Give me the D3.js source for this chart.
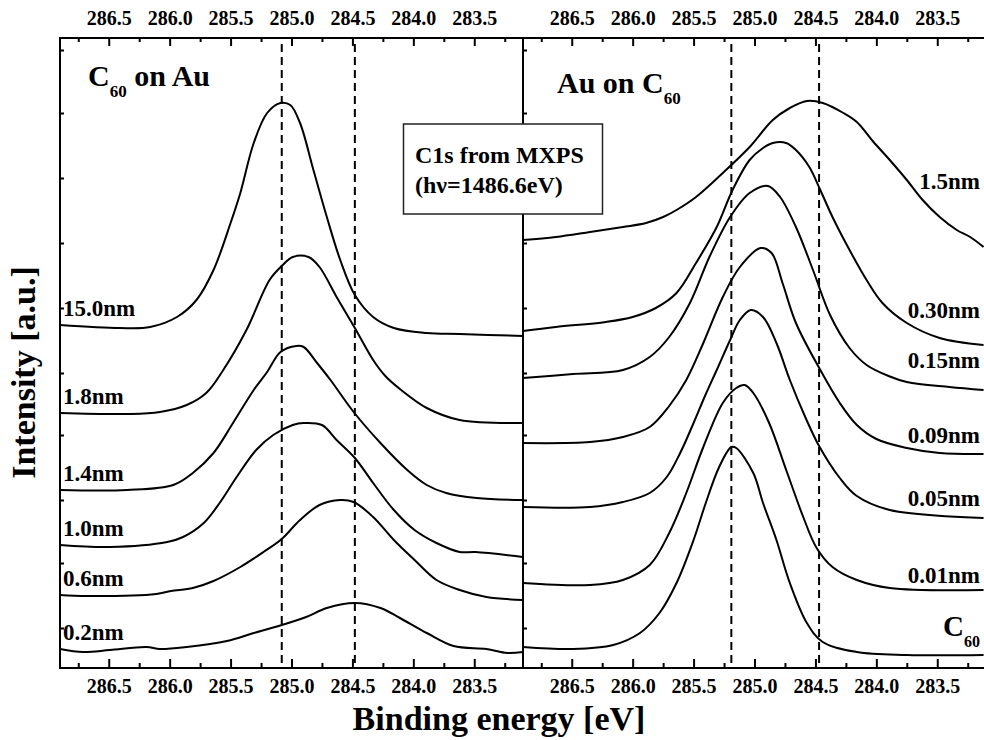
<!DOCTYPE html>
<html>
<head>
<meta charset="utf-8">
<script src="https://cdn.jsdelivr.net/npm/d3@7"></script>
<style>
body { margin: 0; background: #fff; }
text { font-family: "Liberation Serif", "Times New Roman", serif; font-weight: bold; fill: #000; }
</style>
</head>
<body>
<svg id="chart" width="984" height="740"></svg>
<script>
// Binding energy axis (eV, reversed) and ticks
var E_DOMAIN = [286.9, 283.1];
var MAJOR_TICKS = [286.5, 286.0, 285.5, 285.0, 284.5, 284.0, 283.5];
var MINOR_TICKS = [286.75, 286.25, 285.75, 285.25, 284.75, 284.25, 283.75, 283.25];
// intensity ticks (a.u., unlabeled)
var Y_TICKS = [40, 105, 168, 233, 295, 360, 425, 490, 555, 618];

// reference energies of the dashed lines
var DASH_LEFT = [285.08, 284.48];
var DASH_RIGHT = [285.19, 284.47];

// C60 on Au, [binding energy, intensity]
var c60OnAu_150 = [[286.9,343],[286.41,340],[286.16,341],[285.94,351],[285.78,368],[285.64,398],[285.50,445],[285.42,475],[285.31,525],[285.20,555],[285.09,565],[285.01,563],[284.93,545],[284.82,498],[284.71,451],[284.60,408],[284.48,373],[284.33,351],[284.16,340],[283.89,335],[283.62,334],[283.1,332]];
var c60OnAu_18 = [[286.9,255],[286.35,254],[286.08,256],[285.86,263],[285.70,275],[285.56,298],[285.37,338],[285.18,388],[285.08,402],[284.99,411],[284.86,411],[284.77,401],[284.63,371],[284.48,340],[284.33,308],[284.23,292],[284.10,278],[283.89,260],[283.62,248],[283.1,245]];
var c60OnAu_14 = [[286.9,178],[286.35,178],[285.97,183],[285.81,195],[285.64,215],[285.48,245],[285.31,278],[285.20,296],[285.09,316],[284.96,322],[284.90,321],[284.79,305],[284.68,288],[284.49,256],[284.27,225],[284.05,198],[283.89,183],[283.73,175],[283.48,170],[283.1,168]];
var c60OnAu_10 = [[286.9,123],[286.49,121],[286.02,126],[285.89,131],[285.72,145],[285.59,165],[285.45,191],[285.29,218],[285.15,233],[284.99,243],[284.90,245],[284.75,243],[284.63,228],[284.48,210],[284.33,185],[284.16,158],[283.99,138],[283.81,125],[283.62,116],[283.49,116],[283.1,111]];
var c60OnAu_06 = [[286.9,73],[286.68,72],[286.11,74],[285.99,77],[285.81,80],[285.64,87],[285.42,101],[285.23,116],[285.08,129],[284.93,148],[284.77,163],[284.60,168],[284.49,166],[284.33,151],[284.16,128],[283.99,108],[283.81,88],[283.62,78],[283.40,71],[283.1,68]];
var c60OnAu_02 = [[286.9,19],[286.71,16],[286.49,18],[286.19,21],[286.08,19],[285.86,21],[285.53,27],[285.31,35],[285.08,43],[284.88,51],[284.71,60],[284.48,65],[284.27,60],[284.11,50],[283.89,35],[283.67,22],[283.40,19],[283.23,15],[283.1,16]];

// Au on C60
var auOnC60_15 = [[286.9,428],[286.63,431],[286.35,436],[286.08,441],[285.89,445],[285.75,451],[285.64,458],[285.48,471],[285.26,495],[285.04,521],[284.85,548],[284.71,560],[284.57,567],[284.44,565],[284.27,555],[284.16,546],[284.03,527],[283.89,508],[283.75,488],[283.62,468],[283.48,451],[283.34,438],[283.23,431],[283.12,421]];
var auOnC60_030 = [[286.9,337],[286.63,341],[286.22,346],[286.0,351],[285.81,360],[285.64,375],[285.48,405],[285.31,441],[285.18,478],[285.04,508],[284.93,520],[284.85,525],[284.74,525],[284.66,518],[284.55,501],[284.46,478],[284.36,451],[284.22,418],[284.08,388],[283.95,365],[283.75,345],[283.48,330],[283.12,323]];
var auOnC60_015 = [[286.9,290],[286.49,294],[286.08,298],[285.86,311],[285.70,331],[285.53,365],[285.37,411],[285.20,451],[285.04,475],[284.89,482],[284.79,471],[284.66,441],[284.52,398],[284.38,353],[284.22,320],[284.08,303],[283.90,292],[283.75,286],[283.40,281],[283.12,278]];
var auOnC60_009 = [[286.9,225],[286.35,226],[286.08,231],[285.86,241],[285.70,262],[285.56,288],[285.42,325],[285.26,371],[285.12,401],[284.95,420],[284.86,415],[284.77,385],[284.66,345],[284.46,298],[284.30,265],[284.16,243],[284.00,229],[283.75,220],[283.48,215],[283.12,214]];
var auOnC60_005 = [[286.9,161],[286.35,161],[286.08,166],[285.86,175],[285.72,191],[285.61,215],[285.50,245],[285.41,271],[285.31,298],[285.20,328],[285.12,348],[285.03,358],[284.93,351],[284.82,325],[284.71,288],[284.58,250],[284.47,222],[284.30,190],[284.16,172],[283.89,158],[283.12,150]];
var auOnC60_001 = [[286.9,85],[286.35,83],[286.08,88],[285.86,103],[285.70,135],[285.56,175],[285.42,221],[285.26,265],[285.15,280],[285.08,283],[285.01,275],[284.88,245],[284.74,198],[284.60,151],[284.49,120],[284.36,101],[284.16,88],[283.89,80],[283.12,78]];
var auOnC60_c60 = [[286.9,21],[286.49,19],[286.16,23],[285.94,35],[285.78,55],[285.64,85],[285.50,128],[285.40,165],[285.29,201],[285.19,221],[285.15,220],[285.01,195],[284.93,165],[284.82,128],[284.71,85],[284.57,45],[284.44,26],[284.16,16],[283.75,13],[283.12,13]];

var LEFT_SERIES = [c60OnAu_150, c60OnAu_18, c60OnAu_14, c60OnAu_10, c60OnAu_06, c60OnAu_02];
var LEFT_LABELS = ["15.0nm", "1.8nm", "1.4nm", "1.0nm", "0.6nm", "0.2nm"];
var RIGHT_SERIES = [auOnC60_15, auOnC60_030, auOnC60_015, auOnC60_009, auOnC60_005, auOnC60_001, auOnC60_c60];
var RIGHT_LABELS = ["1.5nm", "0.30nm", "0.15nm", "0.09nm", "0.05nm", "0.01nm", "C60"];

var svg = d3.select("#chart");
var X0 = 60, XM = 523, X1 = 986, TOP = 38, BOT = 668;

var xL = d3.scaleLinear().domain(E_DOMAIN).range([X0, XM]);
var xR = d3.scaleLinear().domain(E_DOMAIN).range([XM, X1]);
var y = d3.scaleLinear().domain([0, 630]).range([BOT, TOP]);

function styleAxis(g) {
    g.select(".domain").remove();
    g.attr("font-size", 20).attr("font-family", null);
    g.selectAll("line").attr("stroke-width", 2);
}

function drawAxes(x) {
    svg.append("g").attr("transform", "translate(0," + BOT + ")")
        .call(d3.axisBottom(x).tickValues(MAJOR_TICKS).tickSizeInner(-9).tickSizeOuter(0)
            .tickPadding(10.5).tickFormat(d3.format(".1f")))
        .call(styleAxis);
    svg.append("g").attr("transform", "translate(0," + BOT + ")")
        .call(d3.axisBottom(x).tickValues(MINOR_TICKS).tickSizeInner(-5).tickSizeOuter(0).tickFormat(""))
        .call(styleAxis);
    svg.append("g").attr("transform", "translate(0," + TOP + ")")
        .call(d3.axisTop(x).tickValues(MAJOR_TICKS).tickSizeInner(-8).tickSizeOuter(0)
            .tickPadding(13).tickFormat(d3.format(".1f")))
        .call(styleAxis);
    svg.append("g").attr("transform", "translate(0," + TOP + ")")
        .call(d3.axisTop(x).tickValues(MINOR_TICKS).tickSizeInner(-4).tickSizeOuter(0).tickFormat(""))
        .call(styleAxis);
    svg.append("g").attr("transform", "translate(" + x.range()[0] + ",0)")
        .call(d3.axisLeft(y).tickValues(Y_TICKS).tickSizeInner(-4).tickSizeOuter(0).tickFormat(""))
        .call(styleAxis);
}

function drawCurves(x, series, dashes) {
    var line = d3.line()
        .x(function(d) { return x(d[0]); })
        .y(function(d) { return y(d[1]); })
        .curve(d3.curveCatmullRom.alpha(0.5));
    svg.append("g").selectAll("path")
        .data(series)
        .enter().append("path")
        .attr("d", line)
        .attr("fill", "none")
        .attr("stroke", "#000")
        .attr("stroke-width", 2)
        .attr("stroke-linejoin", "round");
    svg.append("g").selectAll("line")
        .data(dashes)
        .enter().append("line")
        .attr("x1", function(d) { return x(d); })
        .attr("x2", function(d) { return x(d); })
        .attr("y1", TOP + 6)
        .attr("y2", BOT)
        .attr("stroke", "#000")
        .attr("stroke-width", 2)
        .attr("stroke-dasharray", "8,5");
}

drawCurves(xL, LEFT_SERIES, DASH_LEFT);
drawCurves(xR, RIGHT_SERIES, DASH_RIGHT);
drawAxes(xL);
drawAxes(xR);

// frame
svg.append("rect")
    .attr("x", X0).attr("y", TOP)
    .attr("width", X1 - X0).attr("height", BOT - TOP)
    .attr("fill", "none").attr("stroke", "#000").attr("stroke-width", 2);
svg.append("line")
    .attr("x1", XM).attr("x2", XM).attr("y1", TOP).attr("y2", BOT)
    .attr("stroke", "#000").attr("stroke-width", 2);

// left-panel curve labels, just above each trace start
svg.append("g").selectAll("text")
    .data(LEFT_LABELS)
    .enter().append("text")
    .attr("x", X0 + 3)
    .attr("y", function(d, i) { return y(LEFT_SERIES[i][0][1]) - 9; })
    .attr("font-size", 23)
    .text(function(d) { return d; });

// right-panel curve labels (baseline levels in intensity units)
var RIGHT_LABEL_LEVEL = [479, 350, 300, 225, 162, 85, 32];
svg.append("g").selectAll("text")
    .data(RIGHT_LABELS)
    .enter().append("text")
    .attr("x", 980)
    .attr("y", function(d, i) { return y(RIGHT_LABEL_LEVEL[i]); })
    .attr("text-anchor", "end")
    .attr("font-size", 23)
    .each(function(d) {
        var t = d3.select(this);
        if (d === "C60") {
            t.append("tspan").attr("font-size", 29).text("C");
            t.append("tspan").attr("font-size", 16).attr("dy", 11).text("60");
        } else {
            t.text(d);
        }
    });

// panel titles
var t1 = svg.append("text").attr("x", 88).attr("y", 86).attr("font-size", 30);
t1.append("tspan").text("C");
t1.append("tspan").attr("font-size", 17).attr("dy", 11).text("60");
t1.append("tspan").attr("dy", -11).text(" on Au");

var t2 = svg.append("text").attr("x", 557).attr("y", 92.5).attr("font-size", 30);
t2.append("tspan").text("Au on C");
t2.append("tspan").attr("font-size", 17).attr("dy", 11.5).text("60");

// info box
svg.append("rect")
    .attr("x", 403.5).attr("y", 124)
    .attr("width", 199).attr("height", 90)
    .attr("fill", "#fff").attr("stroke", "#222").attr("stroke-width", 1.5);
svg.append("text").attr("x", 415).attr("y", 163).attr("font-size", 24).text("C1s from MXPS");
svg.append("text").attr("x", 415).attr("y", 193).attr("font-size", 24).text("(h\u03bd=1486.6eV)");

// axis titles
svg.append("text")
    .attr("x", 499).attr("y", 730)
    .attr("text-anchor", "middle")
    .attr("font-size", 34)
    .text("Binding energy [eV]");
svg.append("text")
    .attr("transform", "translate(34.5,372.5) rotate(-90)")
    .attr("text-anchor", "middle")
    .attr("font-size", 34)
    .text("Intensity [a.u.]");
</script>
</body>
</html>
